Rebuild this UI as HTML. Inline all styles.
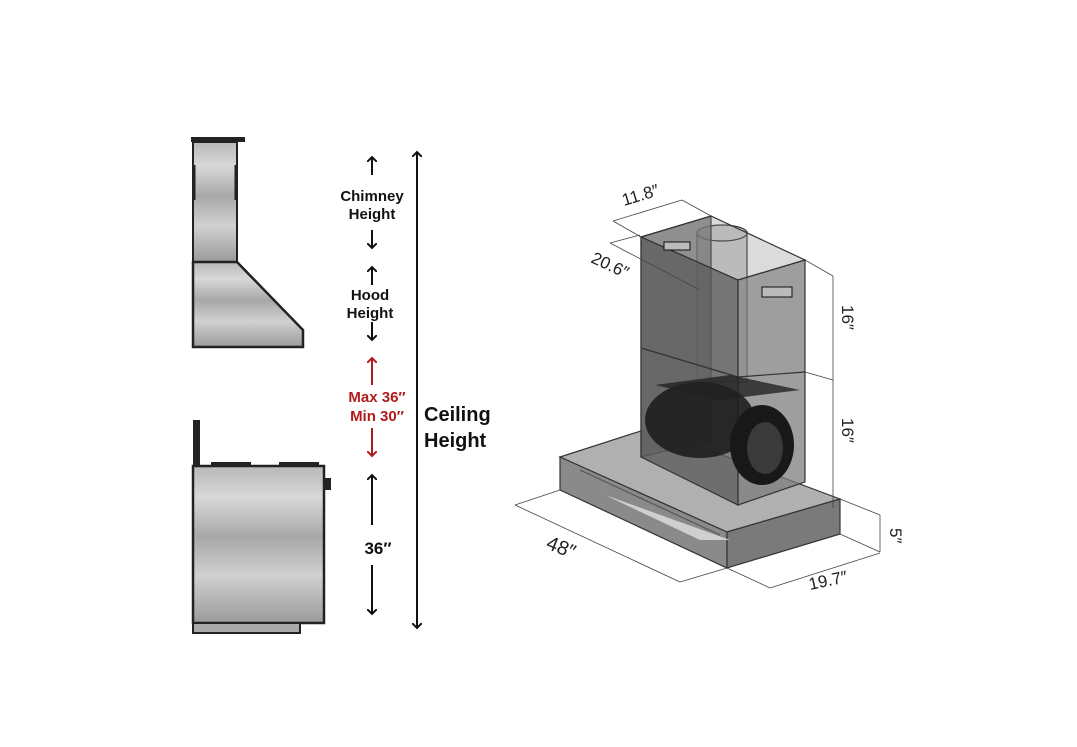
<!DOCTYPE html>
<html><head><meta charset="utf-8"><style>
html,body{margin:0;padding:0;background:#fff;}
svg{display:block}
text{font-family:"Liberation Sans",sans-serif;}
</style></head><body>
<svg width="1077" height="747" viewBox="0 0 1077 747" xmlns="http://www.w3.org/2000/svg">
<defs>
<linearGradient id="steel" x1="0" y1="0" x2="0" y2="1">
<stop offset="0" stop-color="#b8b8b8"/><stop offset="0.2" stop-color="#d8d8d8"/><stop offset="0.45" stop-color="#a8a8a8"/><stop offset="0.7" stop-color="#d0d0d0"/><stop offset="1" stop-color="#9a9a9a"/>
</linearGradient>
<marker id="ah" markerWidth="10" markerHeight="10" refX="5" refY="5" orient="auto-start-reverse" markerUnits="userSpaceOnUse"><path d="M0,0 L5,5 L0,10" fill="none" stroke="#111" stroke-width="2"/></marker>
<marker id="ahr" markerWidth="10" markerHeight="10" refX="5" refY="5" orient="auto-start-reverse" markerUnits="userSpaceOnUse"><path d="M0,0 L5,5 L0,10" fill="none" stroke="#b01c1c" stroke-width="2"/></marker>
</defs>
<!-- left hood -->
<rect x="191" y="137" width="54" height="5" fill="#222"/>
<rect x="193" y="142" width="44" height="120" fill="url(#steel)" stroke="#222" stroke-width="2"/>
<line x1="194" y1="165" x2="194" y2="200" stroke="#222" stroke-width="3"/>
<line x1="236" y1="165" x2="236" y2="200" stroke="#222" stroke-width="3"/>
<path d="M193,262 L237,262 L303,330 L303,347 L193,347 Z" fill="url(#steel)" stroke="#222" stroke-width="2.5"/>
<!-- range -->
<rect x="193" y="420" width="7" height="47" fill="#222"/>
<rect x="211" y="462" width="40" height="4" fill="#222"/>
<rect x="279" y="462" width="40" height="4" fill="#222"/>
<rect x="193" y="466" width="131" height="157" fill="url(#steel)" stroke="#222" stroke-width="2.5"/>
<rect x="193" y="623" width="107" height="10" fill="#aaa" stroke="#222" stroke-width="2"/>
<rect x="323" y="478" width="8" height="12" fill="#222"/>
<!-- arrows -->
<g stroke="#111" stroke-width="2" fill="none">
<line x1="372" y1="175" x2="372" y2="157" marker-end="url(#ah)"/>
<line x1="372" y1="230" x2="372" y2="248" marker-end="url(#ah)"/>
<line x1="372" y1="285" x2="372" y2="267" marker-end="url(#ah)"/>
<line x1="372" y1="322" x2="372" y2="340" marker-end="url(#ah)"/>
<line x1="372" y1="525" x2="372" y2="475" marker-end="url(#ah)"/>
<line x1="372" y1="565" x2="372" y2="614" marker-end="url(#ah)"/>
<line x1="417" y1="152" x2="417" y2="628" marker-end="url(#ah)" marker-start="url(#ah)"/>
</g>
<g stroke="#b01c1c" stroke-width="2" fill="none">
<line x1="372" y1="385" x2="372" y2="358" marker-end="url(#ahr)"/>
<line x1="372" y1="428" x2="372" y2="456" marker-end="url(#ahr)"/>
</g>
<g font-weight="bold" text-anchor="middle" fill="#111">
<text x="372" y="201" font-size="15">Chimney</text>
<text x="372" y="219" font-size="15">Height</text>
<text x="370" y="300" font-size="15">Hood</text>
<text x="370" y="318" font-size="15">Height</text>
<text x="378" y="554" font-size="17">36″</text>
<text x="377" y="402" font-size="15" fill="#b01c1c">Max 36″</text>
<text x="377" y="421" font-size="15" fill="#b01c1c">Min 30″</text>
</g>
<g font-weight="bold" font-size="20" fill="#111">
<text x="424" y="421">Ceiling</text>
<text x="424" y="447">Height</text>
</g>
<!-- right 3D hood -->
<g stroke="#333" stroke-width="1.2">
<!-- base -->
<path d="M560,457 L650,428 L840,499 L727,532 Z" fill="#9c9c9c" fill-opacity="0.8"/>
<path d="M560,457 L727,532 L727,568 L560,490 Z" fill="#8a8a8a"/>
<path d="M727,532 L840,499 L840,534 L727,568 Z" fill="#7a7a7a"/>
<path d="M580,470 L720,535" fill="none" stroke="#555"/>
<path d="M605,495 L700,540 L730,540" fill="#cfcfcf" stroke="none"/>
<!-- duct -->
<rect x="697" y="232" width="50" height="150" fill="#bdbdbd" fill-opacity="0.7"/>
<ellipse cx="722" cy="233" rx="25" ry="8" fill="#d0d0d0"/>
<!-- chimney left panel -->
<path d="M641,237 L711,216 L711,440 L641,457 Z" fill="#6d6d6d" fill-opacity="0.75"/>
<path d="M641,237 L711,216 L805,260 L738,280 Z" fill="#888" fill-opacity="0.3"/>
<path d="M641,237 L738,280 L738,505 L641,457 Z" fill="#5e5e5e" fill-opacity="0.8"/>
<path d="M738,280 L805,260 L805,482 L738,505 Z" fill="#7e7e7e" fill-opacity="0.75"/>
<line x1="641" y1="348" x2="738" y2="377" />
<line x1="738" y1="377" x2="805" y2="372"/>
</g>
<!-- motor -->
<ellipse cx="700" cy="420" rx="55" ry="38" fill="#1e1e1e" opacity="0.9"/>
<ellipse cx="762" cy="445" rx="32" ry="40" fill="#181818"/>
<ellipse cx="765" cy="448" rx="18" ry="26" fill="#3a3a3a"/>
<path d="M655,385 L730,375 L800,390 L720,400 Z" fill="#222" opacity="0.8"/>
<!-- vents -->
<g stroke="#111" stroke-width="1">
<rect x="664" y="242" width="26" height="8" fill="#bbb"/>
<rect x="762" y="287" width="30" height="10" fill="#bbb"/>
</g>
<!-- dimension lines -->
<g stroke="#444" stroke-width="0.8" fill="none">
<line x1="613" y1="221" x2="641" y2="237"/><line x1="613" y1="221" x2="682" y2="200"/><line x1="682" y1="200" x2="711" y2="216"/>
<line x1="610" y1="243" x2="700" y2="290"/><line x1="610" y1="243" x2="640" y2="235"/>
<line x1="805" y1="260" x2="833" y2="276"/><line x1="833" y1="276" x2="833" y2="508"/>
<line x1="805" y1="372" x2="833" y2="380"/><line x1="840" y1="499" x2="880" y2="515"/>
<line x1="880" y1="515" x2="880" y2="552"/><line x1="840" y1="534" x2="880" y2="552"/>
<line x1="515" y1="505" x2="680" y2="582"/><line x1="515" y1="505" x2="560" y2="490"/><line x1="680" y1="582" x2="727" y2="568"/>
<line x1="727" y1="568" x2="770" y2="588"/><line x1="770" y1="588" x2="880" y2="553"/>
</g>
<g fill="#222" font-size="17">
<text x="624" y="206" transform="rotate(-17 624 206)">11.8″</text>
<text x="590" y="262" transform="rotate(25 590 262)">20.6″</text>
<text x="842" y="305" transform="rotate(90 842 305)">16″</text>
<text x="842" y="418" transform="rotate(90 842 418)">16″</text>
<text x="890" y="528" transform="rotate(90 890 528)">5″</text>
<text x="545" y="548" font-size="20" transform="rotate(22 545 548)">48″</text>
<text x="810" y="590" transform="rotate(-12 810 590)">19.7″</text>
</g>
</svg>
</body></html>
